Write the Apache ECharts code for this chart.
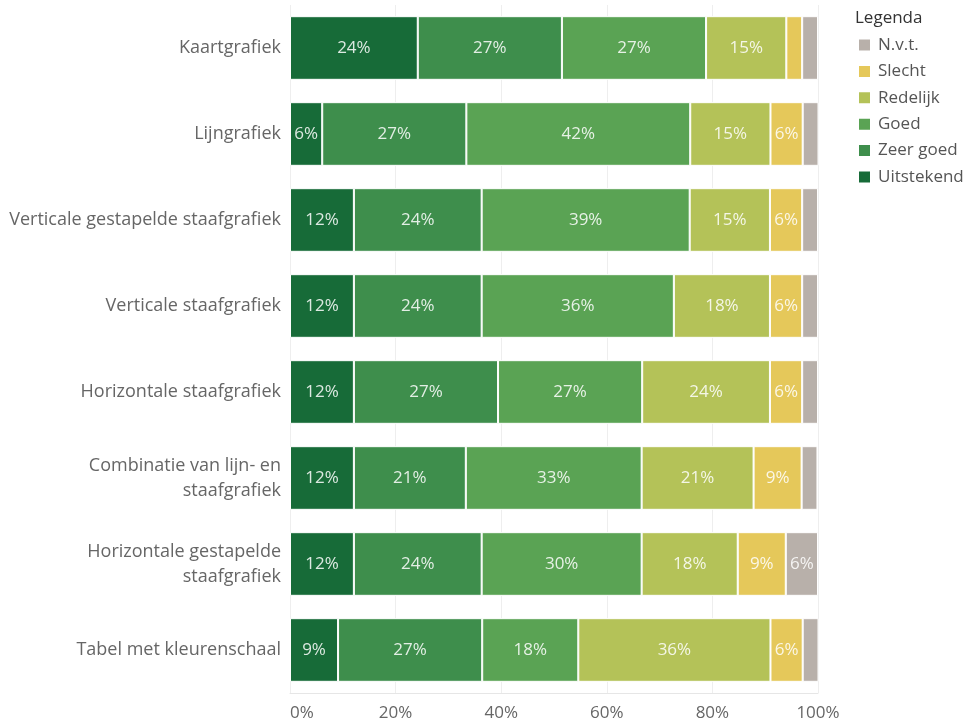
<!DOCTYPE html>
<html><head><meta charset="utf-8">
<script src="https://cdn.jsdelivr.net/npm/echarts@6/dist/echarts.min.js"></script>
<style>html,body{margin:0;padding:0;background:#fff}#c{width:974px;height:722px}</style>
</head><body><div id="c"></div>
<script>
const categories = ["Kaartgrafiek","Lijngrafiek","Verticale gestapelde staafgrafiek","Verticale staafgrafiek","Horizontale staafgrafiek","Combinatie van lijn- en\nstaafgrafiek","Horizontale gestapelde\nstaafgrafiek","Tabel met kleurenschaal"];
const seriesNames = ["Uitstekend","Zeer goed","Goed","Redelijk","Slecht","N.v.t."];
const uitstekend = [24.2, 6.1, 12.1, 12.1, 12.1, 12.1, 12.1, 9.1];
const zeerGoed   = [27.3, 27.3, 24.2, 24.2, 27.3, 21.2, 24.2, 27.3];
const goed       = [27.3, 42.4, 39.4, 36.4, 27.3, 33.3, 30.3, 18.2];
const redelijk   = [15.2, 15.2, 15.2, 18.2, 24.2, 21.2, 18.2, 36.4];
const slecht     = [3.0, 6.1, 6.1, 6.1, 6.1, 9.1, 9.1, 6.1];
const nvt        = [3.0, 3.0, 3.0, 3.0, 3.0, 3.0, 6.1, 3.0];
const xTicks = [0, 20, 40, 60, 80, 100];
const colors = ["#176b38","#3e8e4c","#5aa354","#b4c258","#e5c85a","#b8b0aa"];
const values = [uitstekend, zeerGoed, goed, redelijk, slecht, nvt];
const FONT = "Open Sans";
const chart = echarts.init(document.getElementById('c'), null, {renderer:'canvas'});
chart.setOption({
  animation: false,
  textStyle: {fontFamily: FONT},
  title: {text: 'Legenda', left: 855, top: 10, padding: 0, textStyle: {fontFamily: FONT, fontSize: 17, fontWeight: 'normal', color: '#333'}},
  legend: {
    orient: 'vertical', left: 857, top: 36, padding: 0, itemWidth: 13, itemHeight: 13, itemGap: 8.4,
    data: seriesNames.slice().reverse(),
    icon: 'rect',
    textStyle: {fontFamily: FONT, fontSize: 17, lineHeight: 18, color: '#555', padding: [0,0,0,2]}
  },
  grid: {left: 290, right: 156, top: 5, bottom: 29, containLabel: false},
  xAxis: {
    type: 'value', min: xTicks[0], max: xTicks[xTicks.length-1], interval: 20,
    axisLabel: {formatter: '{value}%', color: '#666', fontSize: 17, fontFamily: FONT, margin: 12, alignMinLabel: 'left'},
    splitLine: {show: true, lineStyle: {color: '#eeeeee'}},
    axisLine: {show: true, lineStyle: {color: '#e6e6e6'}},
    axisTick: {show: false}
  },
  yAxis: {
    type: 'category', inverse: true, data: categories,
    axisLine: {show: false}, axisTick: {show: false},
    axisLabel: {color: '#666', fontSize: 18, fontFamily: FONT, margin: 9, lineHeight: 25, align: 'right'}
  },
  series: seriesNames.map((n, i) => ({
    name: n, type: 'bar', stack: 'total', barWidth: '74%',
    data: values[i],
    itemStyle: {color: colors[i], borderColor: '#ffffff', borderWidth: 1},
    label: {
      show: true, position: 'inside', color: 'rgba(255,255,255,0.85)', fontSize: 17, fontFamily: FONT,
      formatter: p => p.value >= 5 ? Math.round(p.value) + '%' : ''
    }
  }))
});
</script></body></html>
